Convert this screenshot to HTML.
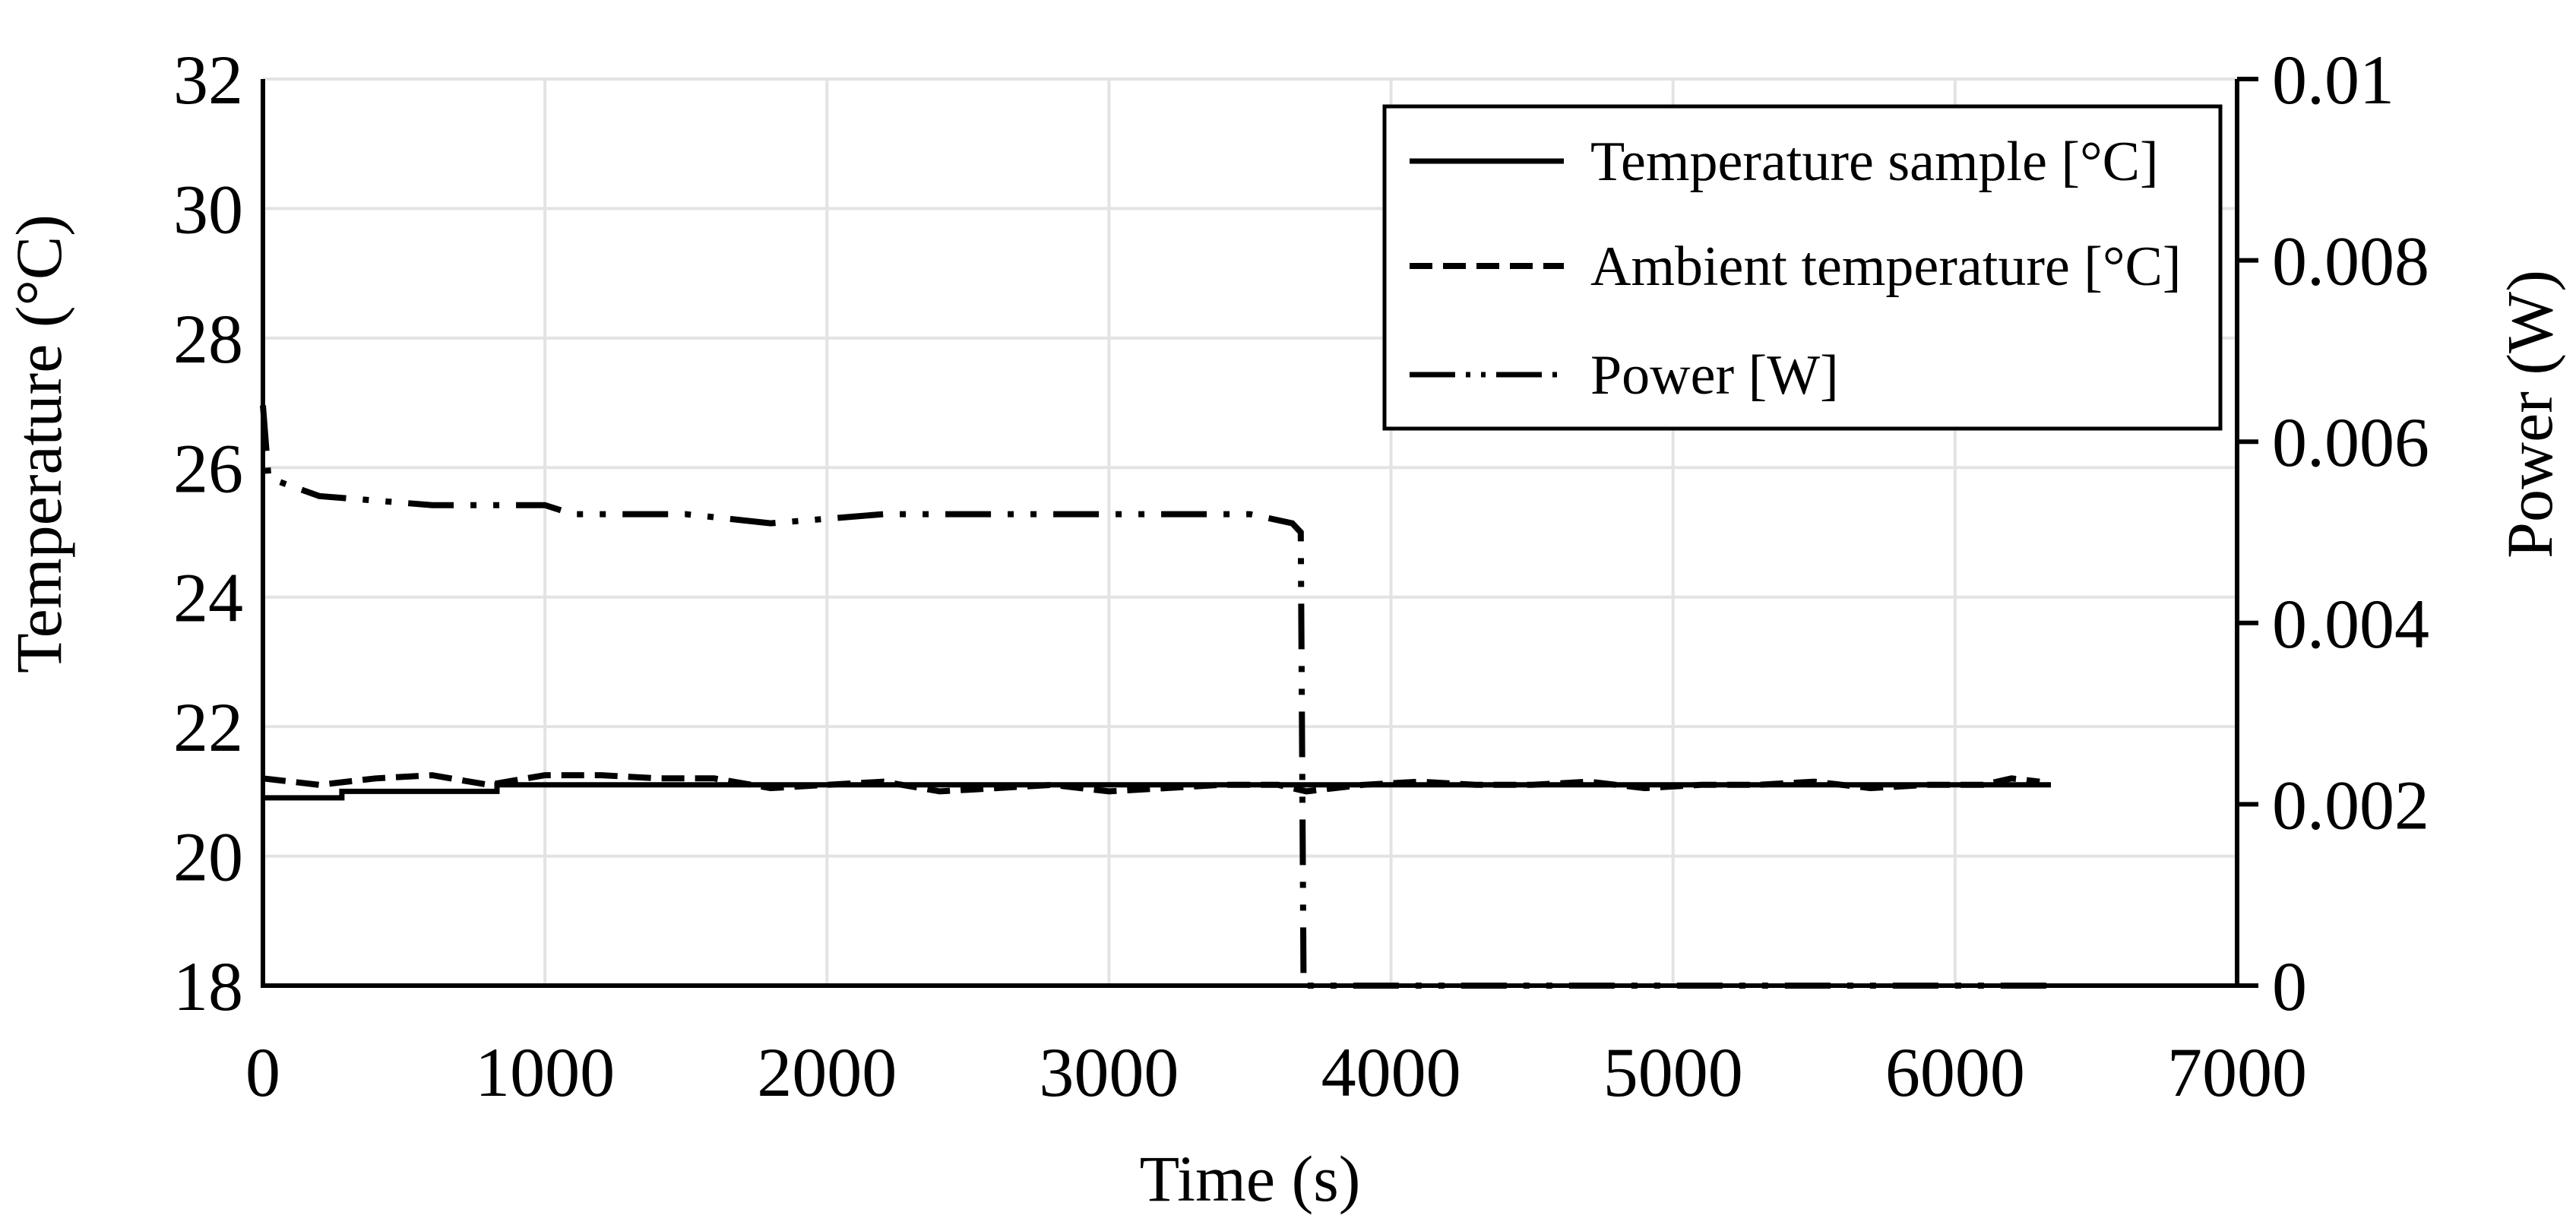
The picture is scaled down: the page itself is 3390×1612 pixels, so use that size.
<!DOCTYPE html>
<html><head><meta charset="utf-8"><style>
html,body{margin:0;padding:0;background:#fff}
svg{display:block}
text{font-family:"Liberation Serif",serif;fill:#000}
</style></head><body>
<svg id="chart" width="3390" height="1612" viewBox="0 0 3390 1612" xmlns="http://www.w3.org/2000/svg">
<g id="grid"></g>
<g id="series"></g>
<g id="axes"></g>
<text x="1645" y="1580" font-size="86" text-anchor="middle">Time (s)</text>
<text transform="translate(80,584) rotate(-90)" font-size="86" text-anchor="middle">Temperature (°C)</text>
<text transform="translate(3358,545) rotate(-90)" font-size="86" text-anchor="middle">Power (W)</text>
<g>
<rect x="1822" y="140" width="1100" height="424" fill="#fff" stroke="#000" stroke-width="5"/>
<line x1="1855" y1="212" x2="2058" y2="212" stroke="#000" stroke-width="7"/>
<text x="2093" y="237" font-size="74">Temperature sample [°C]</text>
<line x1="1855" y1="350" x2="2058" y2="350" stroke="#000" stroke-width="8" stroke-dasharray="30 14"/>
<text x="2093" y="375" font-size="74">Ambient temperature [°C]</text>
<line x1="1855" y1="493" x2="2058" y2="493" stroke="#000" stroke-width="7" stroke-dasharray="60 14 6 14 6 14"/>
<text x="2093" y="518" font-size="74">Power [W]</text>
</g>
</svg>
<script>
const xTicks=[0,1000,2000,3000,4000,5000,6000,7000];
const yTicksLeft=[18,20,22,24,26,28,30,32];
const yTicksRight=["0","0.002","0.004","0.006","0.008","0.01"];
const sampleT=[0,280,280,830,830,6340];
const sampleV=[20.9,20.9,21.0,21.0,21.1,21.1];
const ambientT=[0,200,400,600,800,1000,1200,1400,1600,1800,2000,2200,2400,2600,2800,3000,3200,3400,3600,3700,3900,4100,4300,4500,4700,4900,5100,5300,5500,5700,5900,6100,6200,6300];
const ambientV=[21.2,21.1,21.2,21.25,21.1,21.25,21.25,21.2,21.2,21.05,21.1,21.15,21.0,21.05,21.1,21.0,21.05,21.1,21.1,21.0,21.1,21.15,21.1,21.1,21.15,21.05,21.1,21.1,21.15,21.05,21.1,21.1,21.2,21.15];
const powerT=[0,20,200,600,1000,1100,1500,1800,2200,3000,3500,3650,3680,3690,6340];
const powerV=[0.0064,0.0056,0.0054,0.0053,0.0053,0.0052,0.0052,0.0051,0.0052,0.0052,0.0052,0.0051,0.0050,0.0,0.0];
const L=346,R=2944,T=104,B=1297;
const X=t=>L+(R-L)*t/7000;
const YL=v=>B-(B-T)*(v-18)/14;
const YR=p=>B-(B-T)*p/0.01;
const NS="http://www.w3.org/2000/svg";
function mk(tag,parent,attrs){const e=document.createElementNS(NS,tag);for(const k in attrs)e.setAttribute(k,attrs[k]);parent.appendChild(e);return e;}
const grid=document.getElementById('grid'),axes=document.getElementById('axes'),series=document.getElementById('series');
xTicks.forEach(t=>{
  if(t>0&&t<7000){const g=mk('line',grid,{x1:X(t),x2:X(t),y1:T,y2:B,stroke:'#e3e3e3','stroke-width':4});
  
  }
  const tx=mk('text',axes,{x:X(t),y:1442,'font-size':92,'text-anchor':'middle'});tx.textContent=t;
  
  
});
yTicksLeft.forEach(v=>{
  if(v>18){const g=mk('line',grid,{x1:L,x2:R,y1:YL(v),y2:YL(v),stroke:'#e3e3e3','stroke-width':4});
  
  }
  const tx=mk('text',axes,{x:320,y:YL(v)+32,'font-size':92,'text-anchor':'end'});tx.textContent=v;
  
  
});
yTicksRight.forEach(s=>{
  const y=YR(parseFloat(s));
  const tk=mk('line',axes,{x1:R,x2:R+28,y1:y,y2:y,stroke:'#000','stroke-width':6});
  
  
  const tx=mk('text',axes,{x:2990,y:y+32,'font-size':92});tx.textContent=s;
  
  
});
const ax1=mk('line',axes,{x1:L,x2:L,y1:T,y2:B+3,stroke:'#000','stroke-width':6});


const ax2=mk('line',axes,{x1:R,x2:R,y1:T,y2:B+3,stroke:'#000','stroke-width':6});


const ax3=mk('line',axes,{x1:L,x2:R+28,y1:B,y2:B,stroke:'#000','stroke-width':6});


function path(ts,vs,fy){return ts.map((t,i)=>(i?'L':'M')+X(t).toFixed(1)+','+fy(vs[i]).toFixed(1)).join(' ');}
const p1=mk('path',series,{d:path(ambientT,ambientV,YL),fill:'none',stroke:'#000','stroke-width':8,'stroke-dasharray':'30 14'});


const p2=mk('path',series,{d:path(sampleT,sampleV,YL),fill:'none',stroke:'#000','stroke-width':7});


const p3=mk('path',series,{d:path(powerT,powerV,YR),fill:'none',stroke:'#000','stroke-width':8,'stroke-dasharray':'60 22 8 22 8 22'});


</script>
</body></html>
